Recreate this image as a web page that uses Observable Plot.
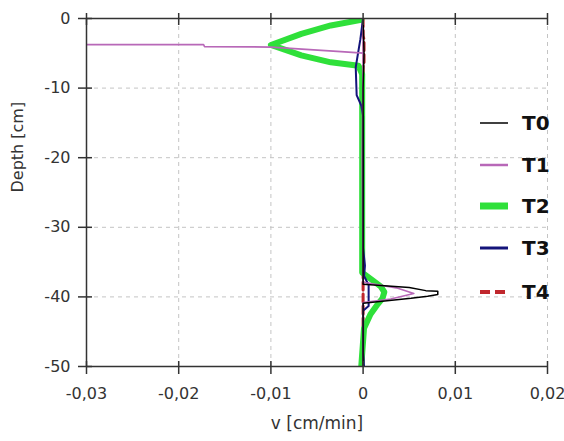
<!DOCTYPE html>
<html><head><meta charset="utf-8">
<script src="https://cdn.jsdelivr.net/npm/d3@7"></script>
<script src="https://cdn.jsdelivr.net/npm/@observablehq/plot@0.6"></script>
<style>
body{margin:0;background:#fff;}
#wrap{position:relative;width:564px;height:441px;font-family:"DejaVu Sans",sans-serif;}
.leg{position:absolute;left:480px;height:24px;display:flex;align-items:center;}
.leg span{font-weight:bold;font-size:20px;color:#111;margin-left:14px;}
</style></head><body><div id="wrap"></div>
<script>
const seriesNames = ["T0", "T1", "T2", "T3", "T4"];
const seriesColors = ["#000000", "#b868b8", "#2fe03a", "#14147a", "#c0272d"];

const t0Depth = [0, -5, -10, -20, -30, -37, -38.2, -38.65, -39.1, -39.2, -39.65, -39.9, -40.2, -40.9, -45, -50];
const t0V     = [0, 0.0001, 0, 0, 0, 0, 0, 0.005, 0.0068, 0.0081, 0.0081, 0.007, 0.0052, 0, 0, 0];

const t1Depth = [0, -4.95, -4.88, -4.75, -4.1, -4.02, -3.74, -3.74, -3.76, -4.04, -4.12, -4.77, -4.9, -5.0, -20, -37.9, -38.7, -39.5, -40.3, -40.8, -50];
const t1V     = [0, 0, -0.0008, -0.0024, -0.01, -0.0172, -0.0173, -0.045, -0.0173, -0.0172, -0.01, -0.0024, -0.0008, 0, -0.0001, 0, 0.0036, 0.0055, 0.003, 0, 0];

const t2Depth = [-0.2, -1.0, -2.2, -3.8, -5.3, -6.3, -6.8, -8, -20, -30, -36.5, -37.6, -38.5, -39.3, -40.2, -41.2, -42.5, -44.5, -50];
const t2V     = [-0.0002, -0.0035, -0.0067, -0.01, -0.0067, -0.0035, -0.0005, -0.0001, -0.0001, -0.0001, -0.0001, 0.001, 0.0019, 0.0023, 0.0021, 0.0015, 0.0008, 0.0001, -0.0002];

const t3Depth = [0, -3, -7, -11, -12.5, -14, -33, -35.5, -37, -38.3, -41.3, -42, -48, -50];
const t3V     = [0, -0.0003, -0.0008, -0.0007, -0.0002, 0, 0, 0.0002, 0.0001, 0.0006, 0.0006, 0, 0, 0.0001];

const t4Depth = [0, -2.5, -3, -6.3, -6.5, -37.5, -42.4, -50];
const t4V     = [0, 0, 0.0001, 0.0001, 0, 0, 0, 0];

const xTicks = [-0.03, -0.02, -0.01, 0, 0.01, 0.02];
const yTicks = [0, -10, -20, -30, -40, -50];
const xLabel = "v [cm/min]";
const yLabel = "Depth [cm]";

const rows = (depth, v) => depth.map((d, i) => ({depth: d, v: v[i]}));
const fmtX = d => d === 0 ? "0" : d.toFixed(2).replace(".", ",");

const lineOpts = (i, w, extra = {}) => ({x: "v", y: "depth", stroke: seriesColors[i], strokeWidth: w, clip: true, strokeLinejoin: "round", ...extra});

const chart = Plot.plot({
  width: 564, height: 441,
  marginLeft: 86, marginRight: 17, marginTop: 18, marginBottom: 75,
  x: {domain: [-0.03, 0.02]},
  y: {domain: [-50, 0]},
  style: {fontFamily: "DejaVu Sans, sans-serif", fontSize: "16px", color: "#333", background: "white"},
  marks: [
    Plot.gridX(xTicks.slice(1), {stroke: "#c4c4c4", strokeOpacity: 1, strokeDasharray: "4,4"}),
    Plot.gridY(yTicks.slice(1, -1), {stroke: "#c4c4c4", strokeOpacity: 1, strokeDasharray: "4,4"}),
    Plot.line(rows(t4Depth, t4V), lineOpts(4, 3, {strokeDasharray: "8,4"})),
    Plot.line(rows(t2Depth, t2V), lineOpts(2, 6)),
    Plot.line(rows(t3Depth, t3V), lineOpts(3, 2)),
    Plot.line(rows(t1Depth, t1V), lineOpts(1, 1.6)),
    Plot.line(rows(t0Depth, t0V), lineOpts(0, 1.5)),
    Plot.ruleX([-0.03], {stroke: "#333", strokeWidth: 1.5}),
    Plot.ruleY([-50, 0], {stroke: "#333", strokeWidth: 1.5}),
    Plot.tickX(xTicks, {x: d => d, insetTop: 343, insetBottom: -8, stroke: "#333", strokeWidth: 1.5}),
    Plot.tickX(xTicks, {x: d => d, insetTop: -5, insetBottom: 341, stroke: "#333", strokeWidth: 1.5}),
    Plot.tickY(yTicks, {y: d => d, insetLeft: -8, insetRight: 455, stroke: "#333", strokeWidth: 1.5}),
    Plot.axisX(xTicks, {anchor: "bottom", tickSize: 0, tickPadding: 21, tickFormat: fmtX, label: null, fill: "#333"}),
    Plot.axisY(yTicks, {anchor: "left", tickSize: 0, tickPadding: 16, tickFormat: d => String(d), label: null, fill: "#333"}),
    Plot.text([xLabel], {frameAnchor: "bottom", dy: 62, fontSize: 17, fill: "#333"}),
    Plot.text([yLabel], {frameAnchor: "left", dx: -69, rotate: -90, fontSize: 16, fill: "#333"})
  ]
});

const wrap = document.getElementById("wrap");
wrap.appendChild(chart);

const legendY = [123, 165, 206, 248, 292];
const legendW = [1.5, 2.5, 7, 3, 4];
seriesNames.forEach((name, i) => {
  const div = document.createElement("div");
  div.className = "leg";
  div.style.top = (legendY[i] - 12) + "px";
  const dash = i === 4 ? ' stroke-dasharray="10,5"' : "";
  div.innerHTML = `<svg width="28" height="10"><line x1="0" x2="28" y1="5" y2="5" stroke="${seriesColors[i]}" stroke-width="${legendW[i]}"${dash}/></svg><span>${name}</span>`;
  wrap.appendChild(div);
});
</script>
</body></html>
